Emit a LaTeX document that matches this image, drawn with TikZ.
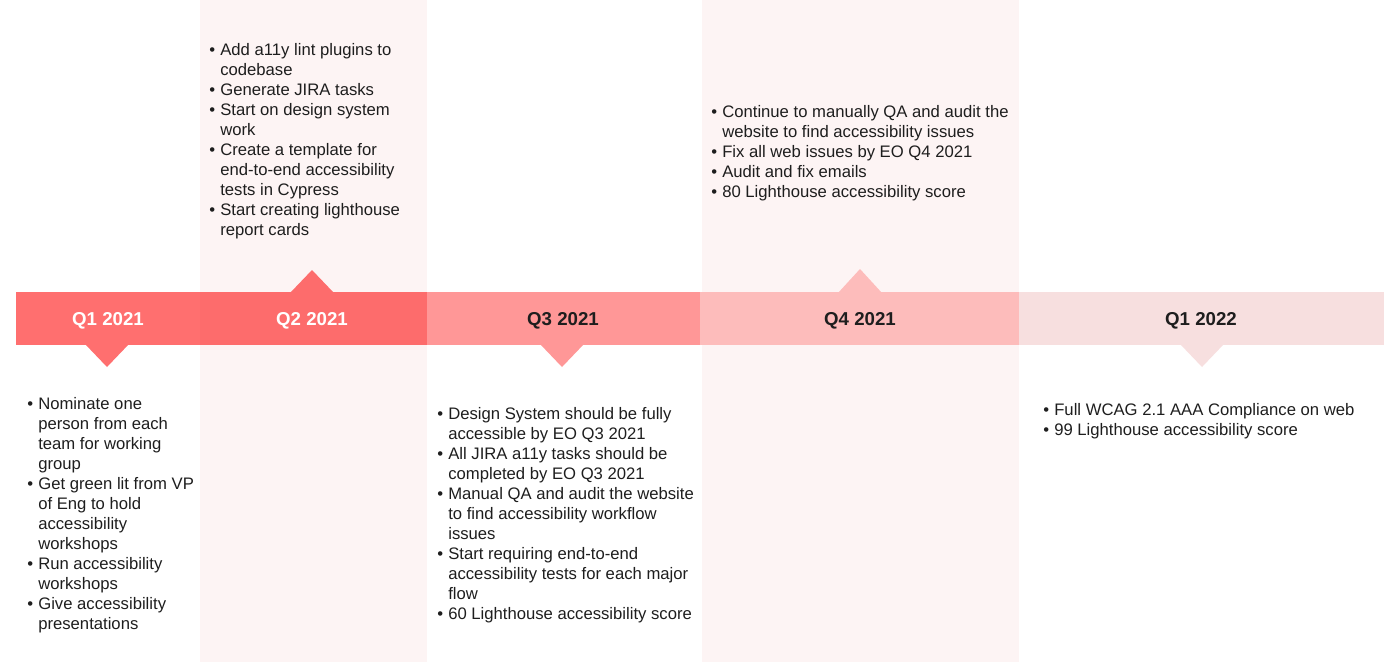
\documentclass[tikz,border=0pt]{standalone}
\usepackage{fontspec}
\setmainfont{Liberation Sans}
\definecolor{colbg}{HTML}{FDF4F4}
\definecolor{qone}{HTML}{FF6F6F}
\definecolor{qtwo}{HTML}{FD6C6C}
\definecolor{qthree}{HTML}{FF9797}
\definecolor{qfour}{HTML}{FDBCBB}
\definecolor{qfive}{HTML}{F7DFDF}
\definecolor{ink}{HTML}{1E1E1E}
\tikzstyle{quarter}=[font=\fontsize{14}{16}\selectfont\bfseries, text=ink, inner sep=0pt]
\tikzstyle{notes}=[anchor=north west, inner sep=0pt, font=\fontsize{12.5}{15}\selectfont, text=ink]
\newcommand{\bul}{\textbullet}

\begin{document}
\begin{tikzpicture}[x=0.75pt, y=-0.75pt]
				\useasboundingbox (0,0) rectangle (1400,662);

				% shaded columns
				\fill[colbg] (200,0) rectangle (427,662);
				\fill[colbg] (702,0) rectangle (1019,662);

				% timeline band
				\coordinate (b0) at (16,292);
				\coordinate (b1) at (200,345);
				\coordinate (b2) at (427,345);
				\coordinate (b3) at (700,345);
				\coordinate (b4) at (1019,345);
				\coordinate (b5) at (1384,345);

				\fill[qone] (b0) rectangle (b1);
				\fill[qtwo] (200,292) rectangle (b2);
				\fill[qthree] (427,292) rectangle (b3);
				\fill[qfour] (700,292) rectangle (b4);
				\fill[qfive] (1019,292) rectangle (b5);

				% pointers
				\fill[qone] (85,344) -- (107,367) -- (129,344) -- cycle;
				\fill[qtwo] (290,293) -- (312,270) -- (334,293) -- cycle;
				\fill[qthree] (540,344) -- (562,367) -- (584,344) -- cycle;
				\fill[qfour] (838,293) -- (860,269) -- (882,293) -- cycle;
				\fill[qfive] (1180,344) -- (1202,367) -- (1224,344) -- cycle;

				% quarter labels
				\node[quarter, text=white] (q1) at (108,321) {Q1 2021};
				\node[quarter, text=white] (q2) at (312,321) {Q2 2021};
				\node[quarter] (q3) at (563,321) {Q3 2021};
				\node[quarter] (q4) at (860,321) {Q4 2021};
				\node[quarter] (q5) at (1201,321) {Q1 2022};

				% notes
				\node[notes] (n1) at (27,395) {\begin{tabular}{@{}l@{\hspace{3.9pt}}l@{}}
					\bul & Nominate one\\ & person from each\\ & team for working\\ & group\\
					\bul & Get green lit from VP\\ & of Eng to hold\\ & accessibility\\ & workshops\\
					\bul & Run accessibility\\ & workshops\\
					\bul & Give accessibility\\ & presentations
				\end{tabular}};
				\node[notes] (n2) at (209,41) {\begin{tabular}{@{}l@{\hspace{3.9pt}}l@{}}
					\bul & Add a11y lint plugins to\\ & codebase\\
					\bul & Generate JIRA tasks\\
					\bul & Start on design system\\ & work\\
					\bul & Create a template for\\ & end-to-end accessibility\\ & tests in Cypress\\
					\bul & Start creating lighthouse\\ & report cards
				\end{tabular}};
				\node[notes] (n3) at (437,405) {\begin{tabular}{@{}l@{\hspace{3.9pt}}l@{}}
					\bul & Design System should be fully\\ & accessible by EO Q3 2021\\
					\bul & All JIRA a11y tasks should be\\ & completed by EO Q3 2021\\
					\bul & Manual QA and audit the website\\ & to find accessibility workflow\\ & issues\\
					\bul & Start requiring end-to-end\\ & accessibility tests for each major\\ & flow\\
					\bul & 60 Lighthouse accessibility score
				\end{tabular}};
				\node[notes] (n4) at (711,103) {\begin{tabular}{@{}l@{\hspace{3.9pt}}l@{}}
					\bul & Continue to manually QA and audit the\\ & website to find accessibility issues\\
					\bul & Fix all web issues by EO Q4 2021\\
					\bul & Audit and fix emails\\
					\bul & 80 Lighthouse accessibility score
				\end{tabular}};
				\node[notes] (n5) at (1043,401) {\begin{tabular}{@{}l@{\hspace{3.9pt}}l@{}}
					\bul & Full WCAG 2.1 AAA Compliance on web\\
					\bul & 99 Lighthouse accessibility score
				\end{tabular}};
			\end{tikzpicture}
\end{document}
